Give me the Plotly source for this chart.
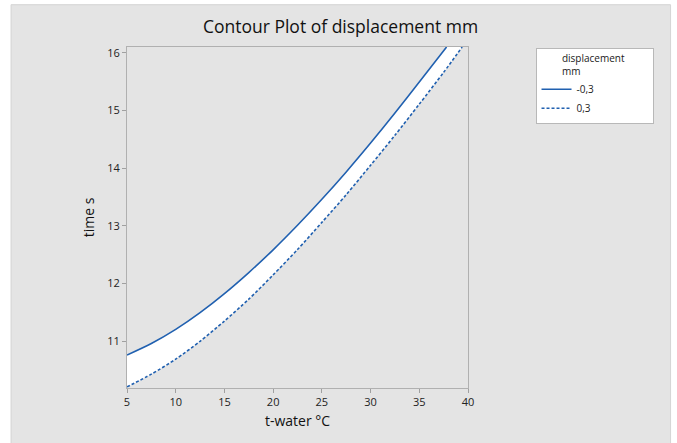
import plotly.graph_objects as go

# displacement = -0,3 contour (solid)
neg_x = [5, 7.5, 10, 12.5, 15, 17.5, 20, 22.5, 25, 27.5, 30, 32.5, 35, 37.8]
neg_y = [10.76, 10.96, 11.205, 11.495, 11.825, 12.19, 12.585, 13.01, 13.46, 13.935, 14.435, 14.955, 15.495, 16.10]

# displacement = 0,3 contour (dashed)
pos_x = [5, 7.5, 10, 12.5, 15, 17.5, 20, 22.5, 25, 27.5, 30, 32.5, 35, 37.5, 39.4]
pos_y = [10.21, 10.43, 10.69, 11.00, 11.35, 11.73, 12.15, 12.59, 13.06, 13.54, 14.05, 14.57, 15.11, 15.66, 16.10]

x_ticks = [5, 10, 15, 20, 25, 30, 35, 40]
y_ticks = [11, 12, 13, 14, 15, 16]

BLUE = "#2060b0"
FONT = "Open Sans"
NB = "\u00a0"

fig = go.Figure()

# white band between the contours (invisible lower edge, filled upper edge)
fig.add_trace(go.Scatter(
    x=pos_x, y=pos_y, mode="lines", line=dict(width=0, shape="spline", smoothing=0.8),
    showlegend=False, hoverinfo="skip",
))
fig.add_trace(go.Scatter(
    x=neg_x, y=neg_y, mode="lines", fill="tonexty", fillcolor="white",
    line=dict(width=0, shape="spline", smoothing=0.8), showlegend=False, hoverinfo="skip",
))
fig.add_trace(go.Scatter(
    x=neg_x, y=neg_y, mode="lines", name="-0,3",
    line=dict(color=BLUE, width=1.6, dash="solid", shape="spline", smoothing=0.8),
))
fig.add_trace(go.Scatter(
    x=pos_x, y=pos_y, mode="lines", name="0,3",
    line=dict(color=BLUE, width=1.6, dash="3px,2px", shape="spline", smoothing=0.8),
))

fig.update_layout(
    width=677, height=443,
    margin=dict(l=127, r=209, t=47, b=55),
    paper_bgcolor="white",
    plot_bgcolor="#cdcdcd",
    font=dict(family=FONT, color="#1a1a1a"),
    title=dict(text="Contour Plot of displacement mm", x=0.503, xref="container",
               y=0.94, yref="container", xanchor="center", yanchor="middle",
               font=dict(size=17.5, color="#111111")),
    xaxis=dict(range=[5, 40], tickvals=x_ticks, showgrid=False, zeroline=False,
               showline=True, linecolor="#b0b0b0", linewidth=1, mirror=True,
               ticks="outside", ticklen=4, tickcolor="#a0a0a0",
               tickfont=dict(size=11, color="#222222"),
               title=dict(text="t-water °C", font=dict(size=14, color="#111111"), standoff=7)),
    yaxis=dict(range=[10.19, 16.1], tickvals=y_ticks, showgrid=False, zeroline=False,
               showline=True, linecolor="#b0b0b0", linewidth=1, mirror=True,
               ticks="outside", ticklen=4, tickcolor="#a0a0a0",
               tickfont=dict(size=11, color="#222222"),
               title=dict(text="time s", font=dict(size=14, color="#111111"), standoff=9)),
    legend=dict(x=1.198, y=0.998, xanchor="left", yanchor="top",
                bgcolor="white", bordercolor="#b8b8b8", borderwidth=1,
                font=dict(size=10, color="#1a1a1a"), traceorder="normal",
                title=dict(text=NB * 9 + "displacement" + NB * 10 + "<br>" + NB * 9 + "mm",
                           font=dict(size=10, color="#1a1a1a")),
                tracegroupgap=0, itemwidth=30),
    shapes=[dict(type="rect", xref="paper", yref="paper", layer="below",
                 x0=-0.34, x1=1.594, y0=-0.17, y1=1.124,
                 fillcolor="#e4e4e4", line=dict(width=1, color="#d4d4d4"))],
)

fig.write_html("out.html", config={"displayModeBar": False},
               post_script="document.body.style.margin='0';")
